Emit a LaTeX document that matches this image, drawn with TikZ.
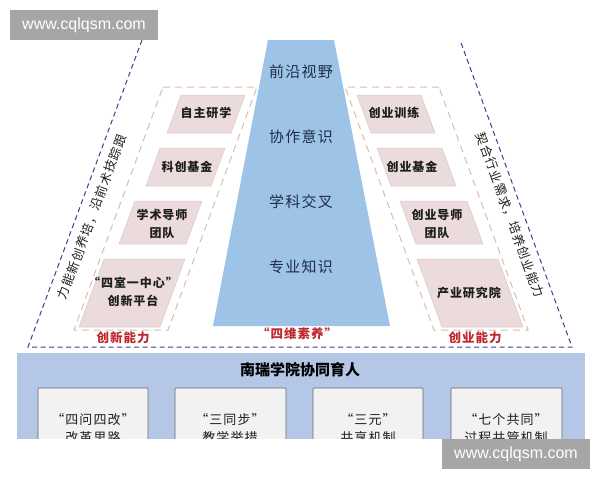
\documentclass[tikz,border=0pt]{standalone}
\usepackage{fontspec}
\newfontfamily\cjk{Noto Sans CJK SC}
\newfontfamily\cjksp[LetterSpace=8]{Noto Sans CJK SC}
\newfontfamily\wmfont{Liberation Sans}
\definecolor{navyc}{HTML}{3E3E8C}
\definecolor{beigec}{HTML}{D9BFA6}
\definecolor{pinkc}{HTML}{EBDBDC}
\definecolor{pinkd}{HTML}{DCC8C9}
\definecolor{bluec}{HTML}{9DC3E6}
\definecolor{panelc}{HTML}{B4C7E7}
\definecolor{boxc}{HTML}{F2F2F2}
\definecolor{redc}{HTML}{C0262C}
\definecolor{txtc}{HTML}{1E1E1E}
\definecolor{trapc}{HTML}{1F2D4A}
\definecolor{wmc}{HTML}{A6A6A6}
\begin{document}
\begin{tikzpicture}[x=1pt,y=-1pt,
  navyline/.style={draw=navyc, dash pattern=on 5pt off 3.5pt, line width=1pt},
  beigeline/.style={draw=beigec, dash pattern=on 7pt off 5pt, line width=1pt},
  pinkbox/.style={fill=pinkc, draw=pinkd, line width=0.5pt},
  boxtxt/.style={font=\cjksp\bfseries\fontsize{12}{18}\selectfont, text=txtc, align=center, inner sep=0pt},
  traptxt/.style={font=\cjksp\fontsize{15}{18}\selectfont, text=trapc, inner sep=0pt},
  redtxt/.style={font=\cjksp\bfseries\fontsize{12.5}{14}\selectfont, text=redc, inner sep=0pt},
  sidetxt/.style={font=\cjksp\fontsize{12.5}{14}\selectfont, text=txtc, inner sep=0pt},
  lowbox/.style={fill=boxc, draw=gray!80!black, line width=0.6pt, rounded corners=1pt},
  lowtxt/.style={font=\cjksp\fontsize{13}{18}\selectfont, text=txtc, align=center, inner sep=0pt},
  titletxt/.style={font=\cjk\bfseries\fontsize{15}{18}\selectfont, text=black, inner sep=0pt},
  wmbox/.style={fill=wmc, draw=none},
  wmtxt/.style={font=\wmfont\fontsize{16}{18}\selectfont, text=white, inner sep=0pt}
]
\useasboundingbox (0,0) rectangle (600,480);
\fill[white] (0,0) rectangle (600,480);

% outer navy dashed frame
\draw[navyline] (142,40) -- (28,347) -- (572,347) -- (460,40);

% beige dashed parallelograms
\draw[beigeline] (163,87) -- (257,87) -- (168,330) -- (74,330) -- cycle;
\draw[beigeline] (439,87) -- (345,87) -- (434,330) -- (528,330) -- cycle;

% blue trapezoid
\fill[bluec] (268,40) -- (334,40) -- (390,326) -- (213,326) -- cycle;
\node[traptxt] (t1) at (301,72) {前沿视野};
\node[traptxt] (t2) at (301,137) {协作意识};
\node[traptxt] (t3) at (301,202) {学科交叉};
\node[traptxt] (t4) at (301,267) {专业知识};

% left pink boxes
\filldraw[pinkbox] (181,95) -- (245,95) -- (231,133) -- (167,133) -- cycle;
\filldraw[pinkbox] (160,148) -- (225,148) -- (211,186) -- (146,186) -- cycle;
\filldraw[pinkbox] (135,201) -- (202,201) -- (186,244) -- (119,244) -- cycle;
\filldraw[pinkbox] (104,259) -- (185,259) -- (160,327) -- (79,327) -- cycle;
\node[boxtxt] (l1) at (206,113) {自主研学};
\node[boxtxt] (l2) at (187,167) {科创基金};
\node[boxtxt] (l3) at (162,224) {学术导师\\团队};
\node[boxtxt] (l4) at (133,292) {“四室一中心”\\创新平台};

% right pink boxes
\filldraw[pinkbox] (421,95) -- (357,95) -- (371,133) -- (435,133) -- cycle;
\filldraw[pinkbox] (442,148) -- (377,148) -- (391,186) -- (456,186) -- cycle;
\filldraw[pinkbox] (467,201) -- (400,201) -- (416,244) -- (483,244) -- cycle;
\filldraw[pinkbox] (498,259) -- (417,259) -- (442,327) -- (523,327) -- cycle;
\node[boxtxt] (r1) at (394,113) {创业训练};
\node[boxtxt] (r2) at (412,167) {创业基金};
\node[boxtxt] (r3) at (437,224) {创业导师\\团队};
\node[boxtxt] (r4) at (469,293) {产业研究院};

% red labels
\node[redtxt] (c1) at (123,338) {创新能力};
\node[redtxt] (c2) at (297,334) {“四维素养”};
\node[redtxt] (c3) at (475,338) {创业能力};

% side texts
\node[sidetxt, rotate=69.6] (s1) at (92,217) {力能新创养培，沿前术技踪跟};
\node[sidetxt, rotate=-70] (s2) at (510,215) {契合行业需求，培养创业能力};

% bottom panel
\fill[panelc] (17,353) rectangle (585,470);
\node[titletxt] (title) at (300,370) {南瑞学院协同育人};
\draw[lowbox] (38,388) rectangle (148,465);
\draw[lowbox] (175,388) rectangle (286,465);
\draw[lowbox] (313,388) rectangle (423,465);
\draw[lowbox] (451,388) rectangle (562,465);
\node[lowtxt] (b1) at (93,429) {“四问四改”\\改革思路};
\node[lowtxt] (b2) at (230,429) {“三同步”\\教学举措};
\node[lowtxt] (b3) at (368,429) {“三元”\\共享机制};
\node[lowtxt] (b4) at (506,429) {“七个共同”\\过程共管机制};

% cropped bottom
\fill[white] (0,438.5) rectangle (600,480);

% watermarks
\fill[wmbox] (10,10) rectangle (158,40);
\node[wmtxt] (w1) at (84,25) {www.cqlqsm.com};
\fill[wmbox] (442,439) rectangle (590,469);
\node[wmtxt] (w2) at (516,454) {www.cqlqsm.com};
\end{tikzpicture}
\end{document}
